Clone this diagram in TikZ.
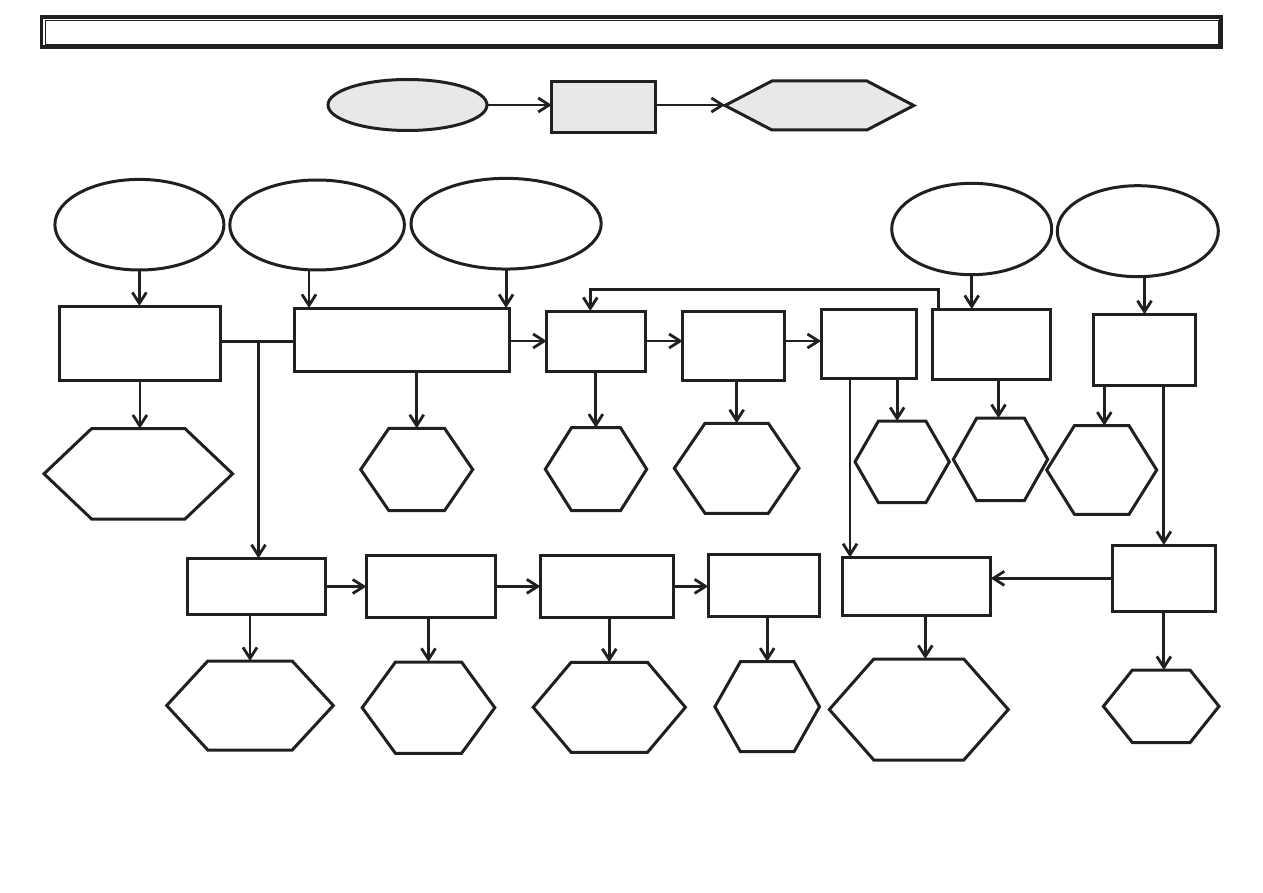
\documentclass[tikz,border=0pt]{standalone}
\usetikzlibrary{arrows.meta,shapes.geometric,calc}
\definecolor{ink}{HTML}{231F20}
\definecolor{legfill}{HTML}{E8E8E8}
\tikzset{
  shp/.style={draw=ink, line width=3pt, inner sep=0pt, outer sep=0pt},
  boxn/.style={shp, rectangle},
  elln/.style={shp, ellipse},
  hexbox/.style={rectangle, inner sep=0pt, outer sep=0pt},
  hexline/.style={draw=ink, line width=3pt, line join=miter},
  conn/.style={draw=ink, line width=2.8pt},
  arr/.style={conn, -{Straight Barb[length=11pt,width=14pt]}},
}
% \hexa[opts]{name}{cx}{cy}{half width}{half top edge}{half height}
\newcommand{\hexa}[7][]{%
  \node[hexbox, minimum width={2*#5}, minimum height={2*#7}] (#2) at (#3,#4) {};
  \draw[hexline,#1] ({#3-#5},#4) -- ({#3-#6},{#4-#7}) -- ({#3+#6},{#4-#7}) -- ({#3+#5},#4)
    -- ({#3+#6},{#4+#7}) -- ({#3-#6},{#4+#7}) -- cycle;
}
\begin{document}
\begin{tikzpicture}[x=1pt,y=-1pt]
\useasboundingbox (0,0) rectangle (1263,893);
\fill[white] (0,0) rectangle (1263,893);

% title bar
\node[draw=ink, line width=3.6pt, inner sep=0pt, outer sep=0pt, minimum width=1179.5, minimum height=30] (title) at (631.25,32.3) {};
\node[draw=ink, line width=1.4pt, inner sep=0pt, outer sep=0pt, minimum width=1172.8, minimum height=24.4] (titlein) at (631.9,32.5) {};

% legend
\node[elln, fill=legfill, minimum width=159, minimum height=51] (LE) at (407.5,105) {};
\node[boxn, fill=legfill, minimum width=104, minimum height=51] (LB) at (603.8,107.2) {};
\hexa[fill=legfill]{LH}{819.4}{105.5}{94.4}{47.5}{24.5}
\draw[arr] (LE.east) -- (LE.east -| LB.west);
\draw[arr] (LB.east |- LE.east) -- (LE.east -| LH.west);

% top ellipses
\node[elln, minimum width=169, minimum height=90.6] (E1) at (139.4,224.7) {};
\node[elln, minimum width=174.6, minimum height=90] (E2) at (317.1,225) {};
\node[elln, minimum width=190.2, minimum height=90.7] (E3) at (506.1,223.7) {};
\node[elln, minimum width=160, minimum height=91.4] (E4) at (971.7,229) {};
\node[elln, minimum width=161, minimum height=91] (E5) at (1137.8,231.2) {};

% upper boxes
\node[boxn, minimum width=160.6, minimum height=74.7] (B1) at (139.9,343.35) {};
\node[boxn, minimum width=215.6, minimum height=63.7] (B2) at (402,339.85) {};
\node[boxn, minimum width=98.3, minimum height=60] (B3) at (595.85,341) {};
\node[boxn, minimum width=101.6, minimum height=69.3] (B4) at (733.5,345.65) {};
\node[boxn, minimum width=95.7, minimum height=69.4] (B5) at (868.85,344) {};
\node[boxn, minimum width=118, minimum height=70] (B6) at (991.3,344) {};
\node[boxn, minimum width=102.4, minimum height=71] (B7) at (1144.5,349.8) {};

% upper hexagons
\hexa{H1}{138.3}{473.8}{94.3}{46.7}{45.2}
\hexa{H2}{416.7}{469.5}{56}{27.8}{41.2}
\hexa{H3}{596}{469.2}{50.7}{24.5}{41.5}
\hexa{H4}{736.65}{468.3}{62.35}{31.65}{45}
\hexa{H5}{902.15}{461.85}{47.15}{23.7}{40.85}
\hexa{H6}{1000.5}{459.4}{47.2}{23.8}{41.3}
\hexa{H7}{1101.7}{470}{55}{27.3}{44.3}

% lower boxes
\node[boxn, minimum width=137.9, minimum height=56.4] (L1) at (256.65,586.5) {};
\node[boxn, minimum width=129.4, minimum height=62.7] (L2) at (431,586.35) {};
\node[boxn, minimum width=133, minimum height=62.7] (L3) at (606.9,586.35) {};
\node[boxn, minimum width=111.6, minimum height=62.7] (L4) at (764,585.35) {};
\node[boxn, minimum width=148, minimum height=58.4] (L5) at (916.7,586.5) {};
\node[boxn, minimum width=102.3, minimum height=66.7] (R1) at (1163.85,578.35) {};

% lower hexagons
\hexa{HL1}{250}{705.5}{83.3}{42.2}{44.5}
\hexa{HL2}{428.5}{707.7}{66.3}{33}{45.7}
\hexa{HL3}{609.3}{707.3}{76.1}{38.2}{45}
\hexa{HL4}{767.2}{706.7}{52.3}{26.8}{45}
\hexa{HL5}{918.8}{709.5}{89.5}{45}{50.5}
\hexa{HR}{1161.2}{706.3}{57.8}{28.8}{36.3}

% helper coordinates
\coordinate (j) at (258.5,341.7);
\coordinate (fb) at (760,289.2);

% ellipses to boxes
\draw[arr] (E1.south) -- (E1.south |- B1.north);
\draw[arr] ([xshift=14.8pt]B2.north west |- E2.south) -- ([xshift=14.8pt]B2.north west);
\draw[arr] (E3.south) -- (E3.south |- B2.north);
\draw[arr] (E4.south) -- (E4.south |- B6.north);
\draw[arr] (B7.north |- E5.south) -- (B7.north);

% upper horizontal flow
\draw[conn] (B1.east |- j) -- (B2.west |- j);
\draw[arr] (j) -- (j |- L1.north);
\draw[arr] (B2.east |- B3.west) -- (B3.west);
\draw[arr] (B3.east) -- (B3.east -| B4.west);
\draw[arr] (B4.east |- B3.east) -- (B3.east -| B5.west);

% feedback loop
\draw[arr] ([xshift=6.2pt]B6.north west) -- ([xshift=6.2pt]B6.north west |- fb)
  -- ([xshift=43.6pt]B3.north west |- fb) -- ([xshift=43.6pt]B3.north west);

% upper boxes to hexagons
\draw[arr] (B1.south) -- (B1.south |- H1.north);
\draw[arr] (H2.north |- B2.south) -- (H2.north);
\draw[arr] (B3.south) -- (B3.south |- H3.north);
\draw[arr] (H4.north |- B4.south) -- (H4.north);
\draw[arr] ([xshift=-5pt]H5.north |- B5.south) -- ([xshift=-5pt]H5.north);
\draw[arr] ([xshift=-2pt]H6.north |- B6.south) -- ([xshift=-2pt]H6.north);
\draw[arr] ([xshift=2.6pt]H7.north |- B7.south) -- ([xshift=2.6pt]H7.north);

% long verticals
\draw[arr] ([xshift=29pt]B5.south west) -- ([xshift=29pt]B5.south west |- L5.north);
\draw[arr] (R1.north |- B7.south) -- (R1.north);

% lower horizontal flow
\draw[arr] (L1.east) -- (L1.east -| L2.west);
\draw[arr] (L2.east) -- (L2.east -| L3.west);
\draw[arr] (L3.east) -- (L3.east -| L4.west);
\draw[arr] (R1.west) -- (R1.west -| L5.east);

% lower boxes to hexagons
\draw[arr] (HL1.north |- L1.south) -- (HL1.north);
\draw[arr] (HL2.north |- L2.south) -- (HL2.north);
\draw[arr] (HL3.north |- L3.south) -- (HL3.north);
\draw[arr] (HL4.north |- L4.south) -- (HL4.north);
\draw[arr] ([xshift=6.5pt]HL5.north |- L5.south) -- ([xshift=6.5pt]HL5.north);
\draw[arr] (R1.south) -- (R1.south |- HR.north);
\end{tikzpicture}
\end{document}
